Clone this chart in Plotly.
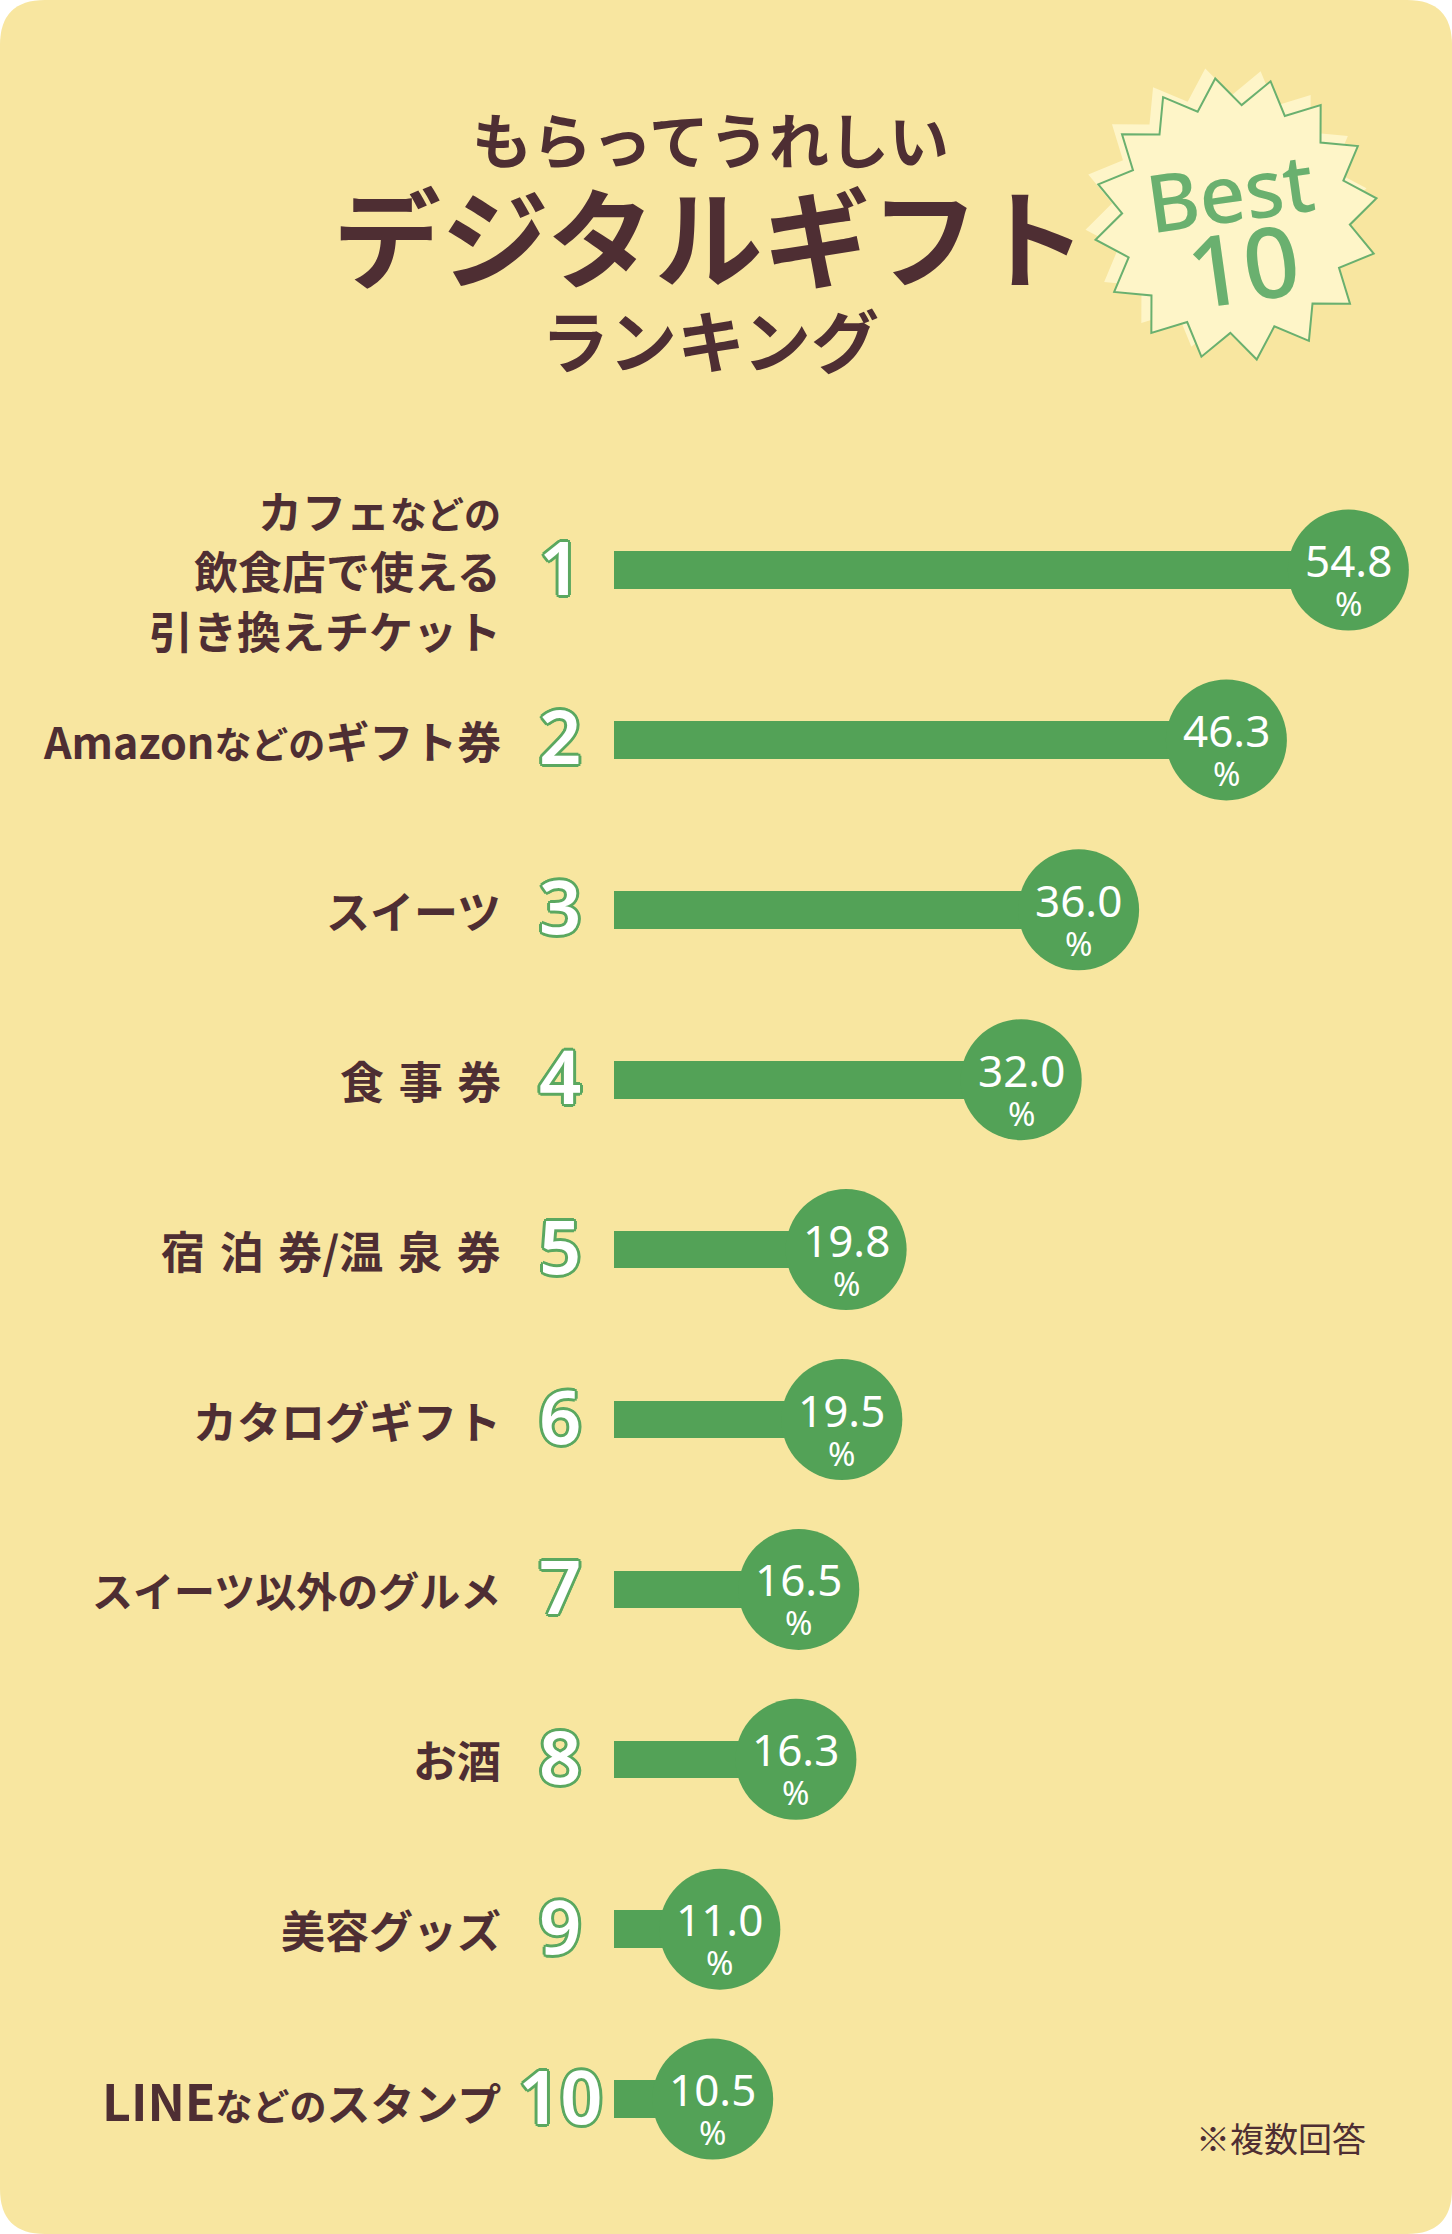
import math
import unicodedata
import plotly.graph_objects as go

# ---------------- data ----------------
ranks = [1, 2, 3, 4, 5, 6, 7, 8, 9, 10]
labels = [
    "カフェなどの\n飲食店で使える\n引き換えチケット",
    "Amazonなどのギフト券",
    "スイーツ",
    "食事券",
    "宿泊券/温泉券",
    "カタログギフト",
    "スイーツ以外のグルメ",
    "お酒",
    "美容グッズ",
    "LINEなどのスタンプ",
]
values = [54.8, 46.3, 36.0, 32.0, 19.8, 19.5, 16.5, 16.3, 11.0, 10.5]
rank_labels = [str(r) for r in ranks]
title_lines = ["もらってうれしい", "デジタルギフト", "ランキング"]
badge_lines = ["Best", "10"]
footnote = "※複数回答"

# ---------------- style ----------------
W, H = 1452, 2234
BG = "#F8E6A0"
GREEN = "#53A257"
BROWN = "#4E2E33"
BADGE_FILL = "#FEF5C8"
BADGE_GREEN = "#6AB06F"
OUTLINE = "#5BA860"
JP = "Noto Sans CJK JP"
LAT = "Noto Sans"

X_ZERO_PX, X_SCALE = 562.0, 14.35       # pixel of value 0, pixels per unit
Y_FIRST_PX, Y_STEP = 570.0, 169.9       # pixel of row 1, pixels per row
BAR_START = (614 - X_ZERO_PX) / X_SCALE
BAR_WIDTH = 37.6 / Y_STEP
CIRCLE_D = 121

x_range = [-X_ZERO_PX / X_SCALE, (W - X_ZERO_PX) / X_SCALE]
y_range = [1 + (H - Y_FIRST_PX) / Y_STEP, 1 - Y_FIRST_PX / Y_STEP]


def px(x):
    return x / W


def py(y):
    return 1 - y / H


def is_kana(ch):
    n = unicodedata.name(ch, "")
    return "HIRAGANA" in n or "KATAKANA" in n


def is_ideo(ch):
    return "CJK UNIFIED IDEOGRAPH" in unicodedata.name(ch, "")


def styled_label(t):
    """Display styling only: spaced kanji, smaller particles, larger latin."""
    if not any(is_kana(c) for c in t) and not any(c.isascii() and c.isalpha() for c in t):
        out = t[0]
        for a, b in zip(t, t[1:]):
            out += ("\u2004" if is_ideo(a) and is_ideo(b) else "") + b
        t = out
    t = t.replace("などの", "<span style='font-size:37px'>などの</span>")
    t = t.replace("LINE", "<span style='font-size:50px'>LINE</span>")
    t = t.replace("Amazon", "<span style='font-size:43px'>Amazon</span>")
    return t


fig = go.Figure()

fig.add_trace(go.Bar(
    orientation="h", y=ranks, x=[v - BAR_START for v in values], base=BAR_START,
    width=BAR_WIDTH, marker=dict(color=GREEN, line=dict(width=0)),
    hoverinfo="skip", showlegend=False,
))
fig.add_trace(go.Scatter(
    x=values, y=ranks, mode="markers",
    marker=dict(size=CIRCLE_D, color=GREEN, line=dict(width=0)),
    hoverinfo="skip", showlegend=False,
))

ann = []
# value labels inside circles
for r, v in zip(ranks, values):
    txt = (f"<span style='font-size:44px'>{v:.1f}</span><br>"
           f"<span style='font-size:33px'>%</span>")
    ann.append(dict(x=v, y=r, xref="x", yref="y", text=txt, showarrow=False,
                    yanchor="middle", yshift=-8,
                    font=dict(family=LAT, size=30, color="white")))

# rank numerals (white with green outline)
o = 3
shadow = ", ".join(f"{dx}px {dy}px 0 {OUTLINE}" for dx, dy in
                   [(o, 0), (-o, 0), (0, o), (0, -o), (2, 2), (-2, 2), (2, -2), (-2, -2)])
for r, t in zip(ranks, rank_labels):
    ann.append(dict(x=px(560), y=r, xref="paper", yref="y", text=t, showarrow=False,
                    xanchor="center", yshift=4,
                    font=dict(family=LAT, size=74, color="white", shadow=shadow, weight=600)))

# category labels (right aligned)
LINE_GAP = 60
for r, lab in zip(ranks, labels):
    parts = lab.split("\n")
    n = len(parts)
    size = 41 if len(lab) >= 10 and n == 1 and "LINE" not in lab and "Amazon" not in lab else 44
    for i, p in enumerate(parts):
        ann.append(dict(x=px(503), y=r, xref="paper", yref="y", text=styled_label(p),
                        showarrow=False, xanchor="right",
                        yshift=((n - 1) / 2 - i) * LINE_GAP,
                        font=dict(family=JP, size=size, color=BROWN, weight=700)))

# titles: first line alone, second + third lines in one block
ann.append(dict(x=px(710), y=py(137), xref="paper", yref="paper", text=title_lines[0],
                showarrow=False, xanchor="center", yanchor="middle",
                font=dict(family=JP, size=60, color=BROWN, weight=700)))
ann.append(dict(x=px(710), y=py(272), xref="paper", yref="paper",
                text=f"<span style='font-size:108px'>{title_lines[1]}</span><br>{title_lines[2]}",
                showarrow=False, xanchor="center", yanchor="middle",
                font=dict(family=JP, size=68, color=BROWN, weight=700)))

# badge text
for t, (bx, by), s in zip(badge_lines, [(1230, 190), (1243, 264)], [80, 98]):
    ann.append(dict(x=px(bx), y=py(by), xref="paper", yref="paper", text=t,
                    showarrow=False, xanchor="center", yanchor="middle", textangle=-8,
                    font=dict(family=LAT, size=s, color=BADGE_GREEN, weight=500)))

# footnote
ann.append(dict(x=px(1281), y=py(2137), xref="paper", yref="paper", text=footnote,
                showarrow=False, xanchor="center", yanchor="middle",
                font=dict(family=JP, size=34, color=BROWN)))

# ---------------- shapes ----------------
shapes = []
R = 45
bg_path = (f"M {px(R)},{py(0)} L {px(W-R)},{py(0)} Q {px(W)},{py(0)} {px(W)},{py(R)} "
           f"L {px(W)},{py(H-R)} Q {px(W)},{py(H)} {px(W-R)},{py(H)} "
           f"L {px(R)},{py(H)} Q {px(0)},{py(H)} {px(0)},{py(H-R)} "
           f"L {px(0)},{py(R)} Q {px(0)},{py(0)} {px(R)},{py(0)} Z")
shapes.append(dict(type="path", path=bg_path, xref="paper", yref="paper",
                   fillcolor=BG, line=dict(width=0), layer="below"))


def star_path(cx, cy, ro, ri, n, a0):
    pts = []
    for k in range(2 * n):
        a = math.radians(a0 + k * 180.0 / n)
        rr = ro if k % 2 == 0 else ri
        pts.append((cx + rr * math.sin(a), cy - rr * math.cos(a)))
    return "M " + " L ".join(f"{px(x):.5f},{py(y):.5f}" for x, y in pts) + " Z"


shapes.append(dict(type="path", path=star_path(1226, 209, 142, 114, 16, -8.4),
                   xref="paper", yref="paper", fillcolor=BADGE_FILL, line=dict(width=0),
                   layer="below"))
shapes.append(dict(type="path", path=star_path(1236, 219, 142, 114, 16, -8.4),
                   xref="paper", yref="paper", fillcolor=BADGE_FILL,
                   line=dict(width=2, color=BADGE_GREEN), layer="below"))

fig.update_layout(
    width=W, height=H,
    margin=dict(l=0, r=0, t=0, b=0),
    paper_bgcolor="white", plot_bgcolor="rgba(0,0,0,0)",
    xaxis=dict(range=x_range, visible=False, fixedrange=True),
    yaxis=dict(range=y_range, visible=False, fixedrange=True),
    annotations=ann, shapes=shapes, bargap=0, showlegend=False,
)

fig.write_html("out.html", config={"displayModeBar": False},
               post_script="document.body.style.margin='0';document.body.style.overflow='hidden';")
